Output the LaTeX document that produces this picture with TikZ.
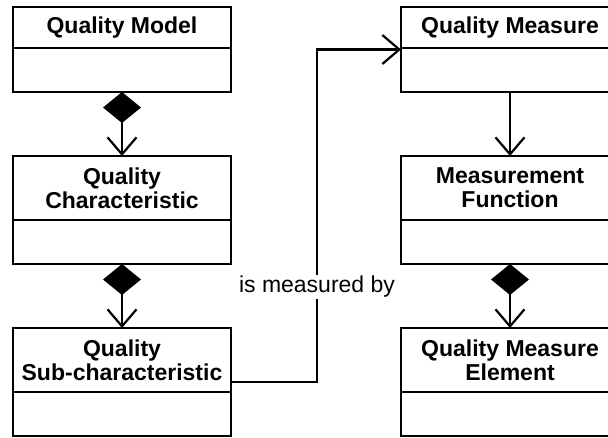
\documentclass[tikz,border=0pt]{standalone}
\usepackage{fontspec}
\setmainfont{Liberation Sans}
\usetikzlibrary{positioning,fit,arrows.meta}

\begin{document}
\begin{tikzpicture}[
			x=1pt, y=1pt,
			every node/.style={font=\fontsize{23}{24}\selectfont},
			classhead/.style={rectangle, draw=black, line width=2.2pt, minimum width=218pt, minimum height=64pt, outer sep=0pt, align=center, font=\fontsize{23}{24}\selectfont\bfseries},
			classbody/.style={rectangle, draw=black, line width=2.2pt, minimum width=218pt, minimum height=44pt, outer sep=0pt},
			wholeclass/.style={inner sep=0pt, outer sep=0pt},
			composition/.style={line width=2.2pt, {Diamond[length=31pt,width=38pt]}-{Straight Barb[length=17pt,width=29pt]}},
			association/.style={line width=2.2pt, -{Straight Barb[length=17pt,width=29pt]}},
			rolelabel/.style={fill=white, inner sep=1pt},
		]
		
			\useasboundingbox (0,0) rectangle (608,-438);
		
			%Left column
			\node[classhead, minimum height=41pt]	(model) at (122,-27.5)	{Quality Model};
			\node[classbody]		(modelbody)[below=0pt of model]		{};
			\node[classhead]		(char)[below=64pt of modelbody]		{Quality\\Characteristic};
			\node[classbody]		(charbody)[below=0pt of char]		{};
			\node[classhead]		(subchar)[below=64pt of charbody]	{Quality\\Sub-characteristic};
			\node[classbody]		(subcharbody)[below=0pt of subchar]	{};
		
			%Right column
			\node[classhead, minimum height=41pt]	(measure)[right=170pt of model]	{Quality Measure};
			\node[classbody]		(measurebody)[below=0pt of measure]		{};
			\node[classhead]		(function)[below=64pt of measurebody]	{Measurement\\Function};
			\node[classbody]		(functionbody)[below=0pt of function]	{};
			\node[classhead]		(element)[below=64pt of functionbody]	{Quality Measure\\Element};
			\node[classbody]		(elementbody)[below=0pt of element]		{};
		
			%Whole classes
			\node[wholeclass, fit=(subchar)(subcharbody)]	(subcharall)	{};
			\node[wholeclass, fit=(measure)(measurebody)]	(measureall)	{};
		
			%Lines
			\draw[composition]	(modelbody) -- (char);
			\draw[composition]	(charbody) -- (subchar);
			\draw[association]	(measurebody) -- (function);
			\draw[composition]	(functionbody) -- (element);
			\draw[association]	(subcharall.east) -- ++(86,0) |- (measureall.west)
				node[rolelabel, pos=0.143] (measuredby) {is measured by};
		
		\end{tikzpicture}
\end{document}
